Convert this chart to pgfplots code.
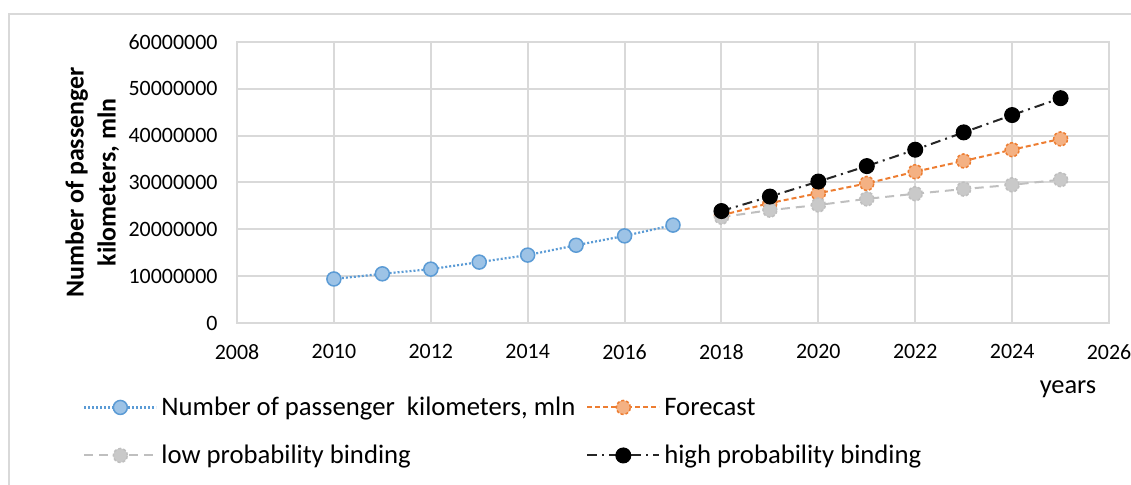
\documentclass[border=0pt]{standalone}
\usepackage{fontspec}
\setmainfont{Carlito}
\usepackage{pgfplots}
\pgfplotsset{compat=1.18}
\definecolor{cblue}{HTML}{5B9BD5}
\definecolor{cbluef}{HTML}{9DC3E6}
\definecolor{corange}{HTML}{ED7D31}
\definecolor{corangef}{HTML}{F4B183}
\definecolor{cgray}{HTML}{BFBFBF}
\definecolor{cgrayf}{HTML}{C9C9C9}
\definecolor{cblack}{HTML}{262626}
\definecolor{cgrid}{HTML}{D9D9D9}
\begin{document}
\begin{tikzpicture}[x=1bp,y=1bp]
\useasboundingbox (0,0) rectangle (1131,485);
\draw[cgrid, line width=1.5bp] (9,0) -- (9,471) -- (1131,471);
\begin{axis}[
  at={(237bp,162bp)}, anchor=south west, scale only axis,
  width=872bp, height=281bp,
  xmin=2008, xmax=2026, ymin=0, ymax=60000000,
  xtick={2008,2010,2012,2014,2016,2018,2020,2022,2024,2026},
  ytick={0,10000000,20000000,30000000,40000000,50000000,60000000},
  grid=major, grid style={cgrid, line width=2bp},
  axis line style={cgrid, line width=2bp},
  major tick length=0pt,
  scaled y ticks=false,
  /pgf/number format/assume math mode=true,
  /pgf/number format/1000 sep={},
  /pgf/number format/fixed,
  ticklabel style={font=\fontsize{22}{26}\selectfont, text=black},
  yticklabel style={xshift=-16bp},
  xticklabel style={yshift=-18bp},
  xlabel={years},
  xlabel style={at={(axis description cs:0.953,-0.235)}, anchor=center, font=\fontsize{26.5}{31}\selectfont},
  ylabel={Number of passenger\\kilometers, mln},
  ylabel style={at={(axis description cs:-0.166,0.5)}, anchor=center, align=center, font=\bfseries\fontsize{26}{32}\selectfont},
  legend columns=2,
  legend cell align=left,
  legend style={at={(axis description cs:-0.18,-0.25)}, anchor=north west, draw=none, fill=none,
    font=\fontsize{26.8}{31}\selectfont, row sep=24bp,
    /tikz/every even column/.append style={column sep=9bp},
    /tikz/every odd column/.append style={column sep=2bp}},
  legend image code/.code={\draw[mark repeat=2,mark phase=2,#1] plot coordinates {(0bp,0bp)(36bp,0bp)(72bp,0bp)};},
]
\addplot[cblue, line width=2.2bp, dash pattern=on 2bp off 2bp, mark=*, mark size=7bp,
  mark options={solid, fill=cbluef, draw=cblue, line width=1.5bp}]
coordinates {(2010,9400000)(2011,10500000)(2012,11500000)(2013,13000000)(2014,14500000)(2015,16600000)(2016,18600000)(2017,20900000)};
\addlegendentry{Number of passenger~~kilometers, mln}
\addplot[corange, line width=2bp, dash pattern=on 5bp off 3bp, mark=*, mark size=7bp,
  mark options={dash pattern=on 3bp off 2bp, fill=corangef, draw=corange, line width=1.5bp}]
coordinates {(2018,23000000)(2019,25600000)(2020,27700000)(2021,29800000)(2022,32300000)(2023,34600000)(2024,37000000)(2025,39300000)};
\addlegendentry{Forecast}
\addplot[cgray, line width=2bp, dash pattern=on 9bp off 6bp, mark=*, mark size=7bp,
  mark options={dash pattern=on 3bp off 2bp, fill=cgrayf, draw=cgray, line width=1.5bp}]
coordinates {(2018,22600000)(2019,24100000)(2020,25200000)(2021,26500000)(2022,27600000)(2023,28600000)(2024,29500000)(2025,30600000)};
\addlegendentry{low probability binding}
\addplot[cblack, line width=2bp, dash pattern=on 10bp off 5bp on 2bp off 5bp, mark=*, mark size=7.5bp,
  mark options={solid, fill=black, draw=black, line width=1bp}]
coordinates {(2018,23900000)(2019,27000000)(2020,30200000)(2021,33500000)(2022,37000000)(2023,40700000)(2024,44400000)(2025,48000000)};
\addlegendentry{high probability binding}
\end{axis}
\end{tikzpicture}
\end{document}
